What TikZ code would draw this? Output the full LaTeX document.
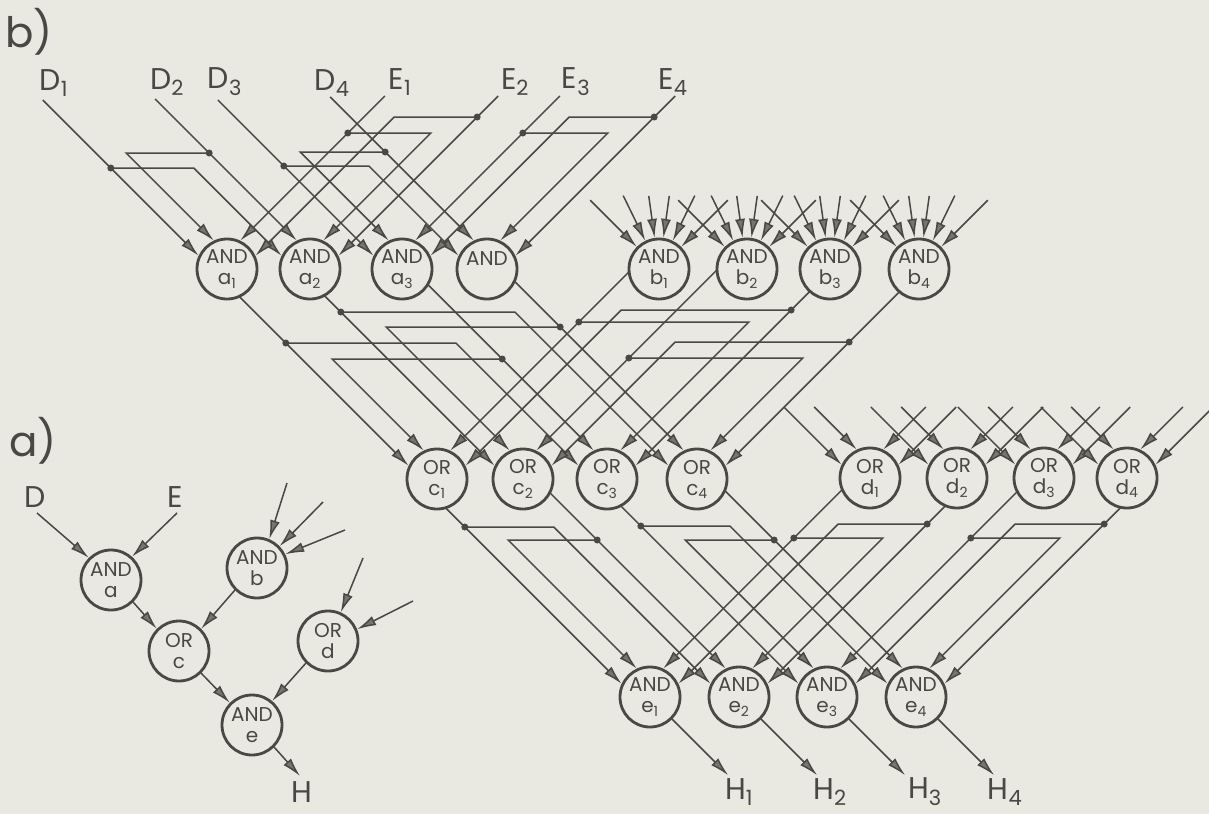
\documentclass[tikz,border=0pt]{standalone}
\usepackage{fontspec}
\setmainfont{Poppins}
\usetikzlibrary{calc,arrows.meta}
\pgfdeclarelayer{back}
\pgfdeclarelayer{wires}
\pgfsetlayers{back,wires,main}
\definecolor{paper}{RGB}{233,233,225}
\definecolor{ink}{RGB}{72,72,68}
\definecolor{tipc}{RGB}{118,118,112}
\tikzset{
  gate/.style={circle, draw=ink, line width=2.8pt, fill=paper, minimum size=60pt,
    inner sep=0pt, align=center, text=ink, font=\fontsize{20}{21}\selectfont},
  wire/.style={draw=ink, line width=1.5pt},
  arr/.style={wire, -{Latex[length=19pt,width=10pt,fill=tipc]}},
  lab/.style={text=ink, inner sep=0pt, font=\fontsize{30}{30}\selectfont},
  big/.style={text=ink, inner sep=0pt, font=\fontsize{42}{42}\selectfont},
}
% down-right 45 deg line into port #1, starting at pixel level #2
\newcommand\Lin[2]{\draw[arr] let \p1=(#1) in ({(\x1)+(\y1)+#2pt},{-#2pt}) -- (\p1);}
% down-left 45 deg line into port #1, starting at pixel level #2
\newcommand\Rin[2]{\draw[arr] let \p1=(#1) in ({(\x1)-(\y1)-#2pt},{-#2pt}) -- (\p1);}
% down-right line from source node #1 (starting inside it) to port #2
\newcommand\Lfrom[2]{\draw[arr] let \p1=(#2), \p2=(#1) in
  ({((\x1)+(\y1)+(\x2)-(\y2))/2},{((\x1)+(\y1)-(\x2)+(\y2))/2}) -- (\p1);}
% down-left line from source node #1 to port #2
\newcommand\Rfrom[2]{\draw[arr] let \p1=(#2), \p2=(#1) in
  ({((\x1)+(\x2)+(\y2)-(\y1))/2},{((\y1)+(\x2)-(\x1)+(\y2))/2}) -- (\p1);}
% branch of a down-right line (direct port #1) to port #2 at level #3
\newcommand\Lbr[3]{\draw[arr] let \p1=(#1), \p2=(#2) in
  ({(\x1)+(\y1)+#3pt},{-#3pt}) -- ({(\x2)+(\y2)+#3pt},{-#3pt}) -- (\p2);
  \fill[ink] let \p1=(#1) in ({(\x1)+(\y1)+#3pt},{-#3pt}) circle[radius=3.5pt];}
% branch of a down-left line (direct port #1) to port #2 at level #3
\newcommand\Rbr[3]{\draw[arr] let \p1=(#1), \p2=(#2) in
  ({(\x1)-(\y1)-#3pt},{-#3pt}) -- ({(\x2)-(\y2)-#3pt},{-#3pt}) -- (\p2);
  \fill[ink] let \p1=(#1) in ({(\x1)-(\y1)-#3pt},{-#3pt}) circle[radius=3.5pt];}
% radial stub into node #1 at angle #2, start factor #3
\newcommand\Stub[3]{\draw[arr] ($(#1)!#3!(#1.#2)$) -- (#1.#2);}
\begin{document}
\begin{tikzpicture}[x=1pt,y=-1pt]
\useasboundingbox (0,0) rectangle (1209,814);
\begin{pgfonlayer}{back}\fill[paper] (0,0) rectangle (1209,814);\end{pgfonlayer}

% ---------- part b: gates ----------
\node[gate] (a1) at (227,269) {AND\\a\textsubscript{1}};
\node[gate] (a2) at (310,269) {AND\\a\textsubscript{2}};
\node[gate] (a3) at (402,269) {AND\\a\textsubscript{3}};
\node[gate] (a4) at (487,269) {AND\\\phantom{a}};
\node[gate] (b1) at (659,269) {AND\\b\textsubscript{1}};
\node[gate] (b2) at (747,269) {AND\\b\textsubscript{2}};
\node[gate] (b3) at (830,269) {AND\\b\textsubscript{3}};
\node[gate] (b4) at (919,269) {AND\\b\textsubscript{4}};
\node[gate] (c1) at (437,479) {OR\\c\textsubscript{1}};
\node[gate] (c2) at (523,479) {OR\\c\textsubscript{2}};
\node[gate] (c3) at (607,479) {OR\\c\textsubscript{3}};
\node[gate] (c4) at (697,479) {OR\\c\textsubscript{4}};
\node[gate] (d1) at (870,478) {OR\\d\textsubscript{1}};
\node[gate] (d2) at (957,478) {OR\\d\textsubscript{2}};
\node[gate] (d3) at (1044,478) {OR\\d\textsubscript{3}};
\node[gate] (d4) at (1127,478) {OR\\d\textsubscript{4}};
\node[gate] (e1) at (650,697) {AND\\e\textsubscript{1}};
\node[gate] (e2) at (739,697) {AND\\e\textsubscript{2}};
\node[gate] (e3) at (827,697) {AND\\e\textsubscript{3}};
\node[gate] (e4) at (916,697) {AND\\e\textsubscript{4}};

% labels
\node[big] (lb) at (29,32) {b)};
\node[big] (la) at (33,441) {a)};
\node[lab] (D1) at (54,83) {D\textsubscript{1}};
\node[lab] (D2) at (167,82) {D\textsubscript{2}};
\node[lab] (D3) at (225,82) {D\textsubscript{3}};
\node[lab] (D4) at (332,83) {D\textsubscript{4}};
\node[lab] (E1) at (400,82) {E\textsubscript{1}};
\node[lab] (E2) at (515,82) {E\textsubscript{2}};
\node[lab] (E3) at (576,82) {E\textsubscript{3}};
\node[lab] (E4) at (673,82) {E\textsubscript{4}};
\node[lab] (H1) at (739,792) {H\textsubscript{1}};
\node[lab] (H2) at (830,792) {H\textsubscript{2}};
\node[lab] (H3) at (925,792) {H\textsubscript{3}};
\node[lab] (H4) at (1005,792) {H\textsubscript{4}};

% ---------- part a ----------
\node[gate] (pa) at (111,580) {AND\\a};
\node[gate] (pb) at (257,568) {AND\\b};
\node[gate] (pc) at (179,651) {OR\\c};
\node[gate] (pd) at (328,641) {OR\\d};
\node[gate] (pe) at (252,725) {AND\\e};
\node[lab] (Dl) at (35,497) {D};
\node[lab] (El) at (175,497) {E};
\node[lab] (Hl) at (302,792) {H};
\coordinate (aD) at (37,513);
\coordinate (aE) at (177,513);
\coordinate (aH) at (300,776);
\coordinate (ab1) at (287,483);
\coordinate (ab2) at (323,502);
\coordinate (ab3) at (345,530);
\coordinate (ad1) at (363,558);
\coordinate (ad2) at (413,601);

\begin{pgfonlayer}{wires}
% part a wires
\draw[arr] (aD) -- (pa.135);
\draw[arr] (aE) -- (pa.48);
\draw[arr] (pa.-45) -- (pc.135);
\draw[arr] (pb.-135) -- (pc.45);
\draw[arr] (pc.-45) -- (pe.135);
\draw[arr] (pd.-135) -- (pe.50);
\draw[arr] (pe.-45) -- (aH);
\draw[arr] (ab1) -- (pb.67);
\draw[arr] (ab2) -- (pb.44);
\draw[arr] (ab3) -- (pb.26);
\draw[arr] (ad1) -- (pd.66);
\draw[arr] (ad2) -- (pd.22);

% stage 1: D,E -> a
\Lin{a1.155}{100} \Lin{a2.115}{99} \Lin{a3.155}{100} \Lin{a4.115}{97}
\Rin{a1.65}{96} \Rin{a2.25}{96} \Rin{a3.65}{96} \Rin{a4.25}{96}
\Lbr{a1.155}{a2.155}{168} \Lbr{a2.115}{a1.115}{153}
\Lbr{a3.155}{a4.155}{166} \Lbr{a4.115}{a3.115}{152}
\Rbr{a1.65}{a2.65}{133} \Rbr{a2.25}{a1.25}{117}
\Rbr{a3.65}{a4.65}{133} \Rbr{a4.25}{a3.25}{117}

% b input stubs
\foreach \g in {b1,b2,b3,b4}{
  \Stub{\g}{135}{3.1} \Stub{\g}{116}{2.6} \Stub{\g}{98}{2.35}
  \Stub{\g}{82}{2.35} \Stub{\g}{64}{2.6} \Stub{\g}{45}{3.1}
}

% stage 2: a,b -> c
\Lfrom{a1}{c1.155} \Lfrom{a2}{c2.155} \Lfrom{a3}{c3.115} \Lfrom{a4}{c4.115}
\Rfrom{b1}{c1.65} \Rfrom{b2}{c2.65} \Rfrom{b3}{c3.25} \Rfrom{b4}{c4.25}
\Lbr{c1.155}{c3.155}{343} \Lbr{c2.155}{c4.155}{312}
\Lbr{c3.115}{c1.115}{359} \Lbr{c4.115}{c2.115}{327}
\Rbr{c1.65}{c3.65}{322} \Rbr{c2.65}{c4.65}{358}
\Rbr{c3.25}{c1.25}{310} \Rbr{c4.25}{c2.25}{342}

% d input stubs
\foreach \g in {d1,d2,d3,d4}{
  \Lin{\g.155}{407} \Lin{\g.115}{407} \Rin{\g.65}{407} \Rin{\g.25}{407}
}

% stage 3: c,d -> e
\Lfrom{c1}{e1.155} \Lfrom{c2}{e2.115} \Lfrom{c3}{e3.155} \Lfrom{c4}{e4.115}
\Rfrom{d1}{e1.65} \Rfrom{d2}{e2.25} \Rfrom{d3}{e3.65} \Rfrom{d4}{e4.25}
\Lbr{e1.155}{e2.155}{527} \Lbr{e2.115}{e1.115}{540}
\Lbr{e3.155}{e4.155}{526} \Lbr{e4.115}{e3.115}{540}
\Rbr{e1.65}{e2.65}{538} \Rbr{e2.25}{e1.25}{524}
\Rbr{e3.65}{e4.65}{538} \Rbr{e4.25}{e3.25}{524}

% outputs
\foreach \i in {1,2,3,4}{
  \coordinate (h\i) at ($(e\i.-45)+(56,56)$);
  \draw[arr] (e\i.-45) -- (h\i);
}
\end{pgfonlayer}
\end{tikzpicture}
\end{document}
